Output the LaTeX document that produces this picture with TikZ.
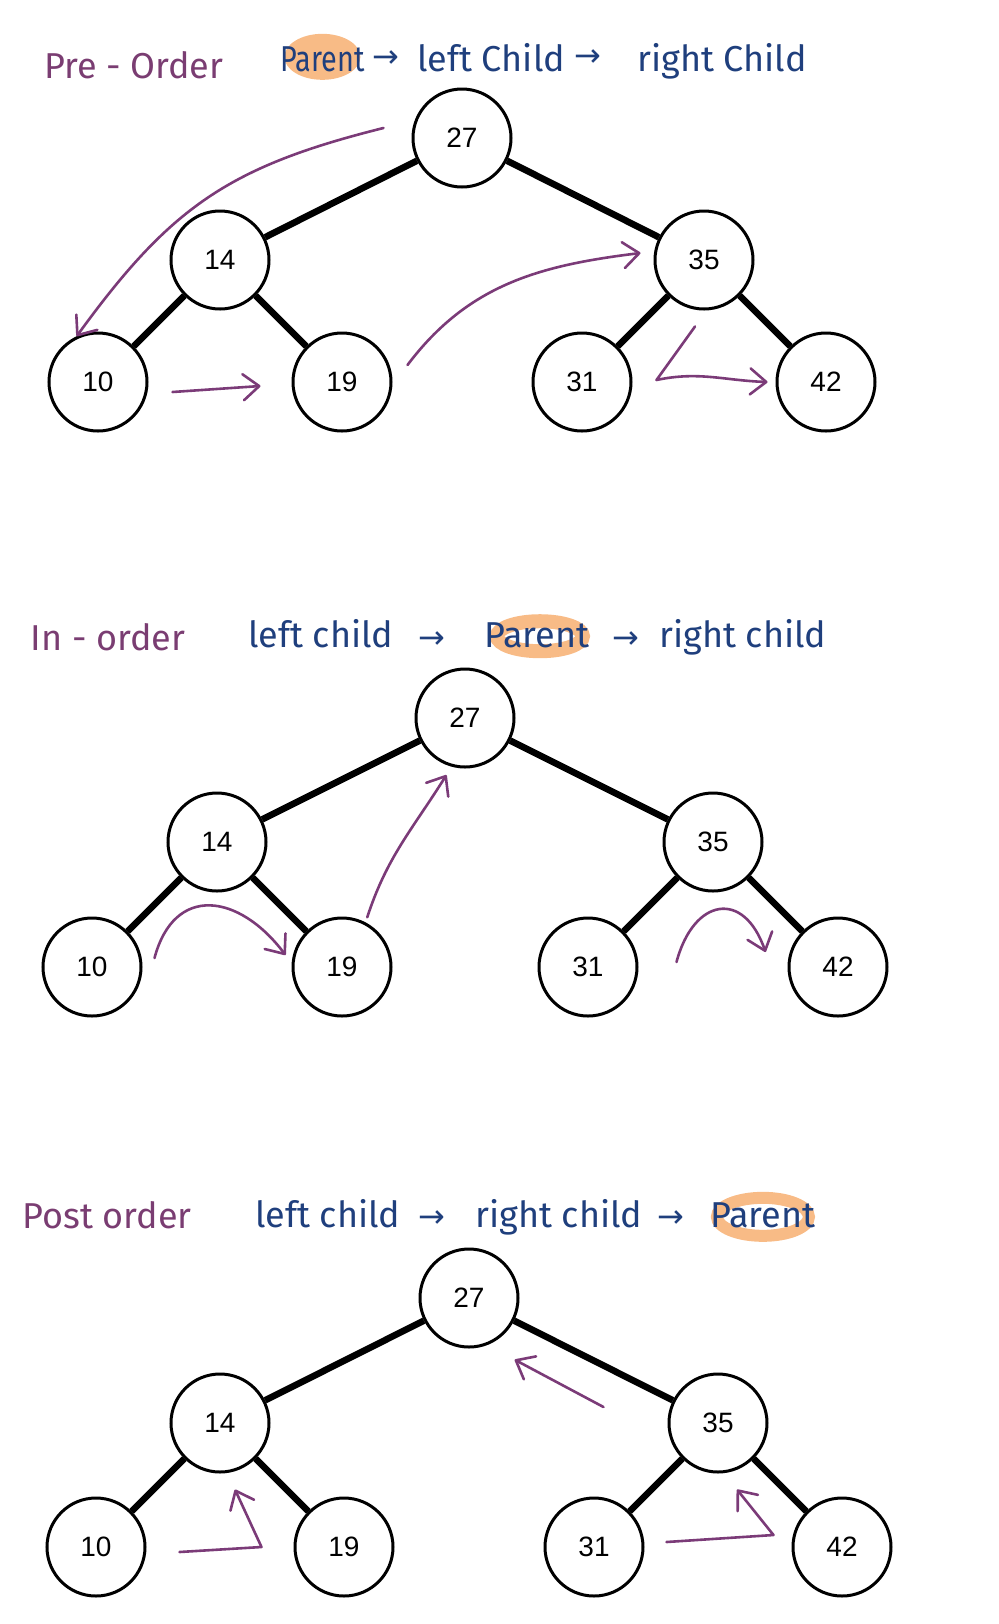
\documentclass[tikz,border=0pt]{standalone}
\usepackage{fontspec}
\usepackage{xcolor}
\usepackage{tikz}
\usetikzlibrary{arrows.meta,positioning,backgrounds}
\newfontfamily\numfont{Liberation Sans}
\newfontfamily\handfont{Fira Sans}
\newfontfamily\handnarrow[FakeStretch=0.8]{Fira Sans}
\newfontfamily\symfont{DejaVu Sans}
\definecolor{WalkPurple}{HTML}{7B3B78}
\definecolor{TitlePurple}{HTML}{7A3D72}
\definecolor{InkBlue}{HTML}{1F3F7D}
\definecolor{MarkOrange}{HTML}{F8BB86}

\begin{document}
\begin{tikzpicture}[on grid,
    tnode/.style={circle, draw, line width=1.5pt, minimum size=49pt, inner sep=0pt, font=\numfont\fontsize{14}{16}\selectfont},
    tedge/.style={line width=3.3pt},
    walk/.style={draw=WalkPurple, line width=1.3pt, line cap=round, line join=round, -{Straight Barb[length=8pt,width=13pt,round]}},
    hdr/.style={anchor=base west, inner sep=0pt, text=TitlePurple, font=\handfont\fontsize{18}{20}\selectfont},
    term/.style={anchor=base west, inner sep=0pt, text=InkBlue, font=\handfont\fontsize{18}{20}\selectfont},
    thento/.style={inner sep=0pt, text=InkBlue, font=\symfont\fontsize{16}{18}\selectfont}]
    \useasboundingbox (0,0) rectangle (499.5pt,-812pt);

    \node[hdr] (h1) at (22pt,-39pt) {Pre - Order};
    \node[term, font=\handnarrow\fontsize{18}{20}\selectfont] (p1) at (140pt,-35.5pt) {Parent};
    \node[thento] (s1) at (193pt,-29.5pt) {→};
    \node[term] (l1) at (208.5pt,-35.5pt) {left Child};
    \node[thento] (s2) at (293.75pt,-29pt) {→};
    \node[term] (r1) at (318.5pt,-35.5pt) {right Child};

    \node[tnode] (a27) at (231pt,-69pt) {27};
    \node[tnode, below left=61pt and 121pt of a27] (a14) {14};
    \node[tnode, below right=61pt and 121pt of a27] (a35) {35};
    \node[tnode, below left=61pt and 61pt of a14] (a10) {10};
    \node[tnode, below right=61pt and 61pt of a14] (a19) {19};
    \node[tnode, below left=61pt and 61pt of a35] (a31) {31};
    \node[tnode, below right=61pt and 61pt of a35] (a42) {42};
    \draw[tedge] (a27) -- (a14);
    \draw[tedge] (a27) -- (a35);
    \draw[tedge] (a14) -- (a10);
    \draw[tedge] (a14) -- (a19);
    \draw[tedge] (a35) -- (a31);
    \draw[tedge] (a35) -- (a42);
    \draw[walk] ([shift={(-14pt,5pt)}]a27.west) to[out=194, in=54, looseness=1.1] (a10.115);
    \draw[walk] ([shift={(12pt,-5pt)}]a10.east) -- ([shift={(-15.5pt,-2pt)}]a19.west);
    \draw[walk] ([shift={(7.5pt,8.5pt)}]a19.east) to[out=53, in=187] ([shift={(-6.5pt,3.5pt)}]a35.west);
    \draw[walk] ([shift={(-4.5pt,-8pt)}]a35.south) -- ([shift={(12pt,1pt)}]a31.east) to[out=12, in=178] ([xshift=-4pt]a42.west);

    \node[hdr] (h2) at (15.3pt,-325pt) {In - order};
    \node[term] (l2) at (124pt,-323.5pt) {left child};
    \node[thento] (s3) at (215.75pt,-320pt) {→};
    \node[term] (p2) at (242pt,-323.5pt) {Parent};
    \node[thento] (s4) at (313pt,-320pt) {→};
    \node[term] (r2) at (329.5pt,-323.5pt) {right child};

    \node[tnode] (b27) at (232.5pt,-359pt) {27};
    \node[tnode, below left=62pt and 124pt of b27] (b14) {14};
    \node[tnode, below right=62pt and 124pt of b27] (b35) {35};
    \node[tnode, below left=62.5pt and 62.5pt of b14] (b10) {10};
    \node[tnode, below right=62.5pt and 62.5pt of b14] (b19) {19};
    \node[tnode, below left=62.5pt and 62.5pt of b35] (b31) {31};
    \node[tnode, below right=62.5pt and 62.5pt of b35] (b42) {42};
    \draw[tedge] (b27) -- (b14);
    \draw[tedge] (b27) -- (b35);
    \draw[tedge] (b14) -- (b10);
    \draw[tedge] (b14) -- (b19);
    \draw[tedge] (b35) -- (b31);
    \draw[tedge] (b35) -- (b42);
    \draw[walk] ([shift={(6pt,4.5pt)}]b10.east) to[out=75, in=127, looseness=1.5] ([shift={(-3pt,6pt)}]b19.west);
    \draw[walk] ([yshift=3pt]b19.60) to[out=72, in=238] ([shift={(-1.5pt,-4.5pt)}]b27.252);
    \draw[walk] ([shift={(19pt,2.5pt)}]b31.east) to[out=75, in=109, looseness=1.9] ([shift={(-11pt,7.5pt)}]b42.west);

    \node[hdr] (h3) at (11pt,-614pt) {Post order};
    \node[term] (l3) at (127.5pt,-613.5pt) {left child};
    \node[thento] (s5) at (215.75pt,-609.3pt) {→};
    \node[term] (r3) at (237.5pt,-613.5pt) {right child};
    \node[thento] (s6) at (335.25pt,-609.3pt) {→};
    \node[term] (p3) at (355pt,-613.5pt) {Parent};

    \node[tnode] (c27) at (234.5pt,-649pt) {27};
    \node[tnode, below left=62.5pt and 124.5pt of c27] (c14) {14};
    \node[tnode, below right=62.5pt and 124.5pt of c27] (c35) {35};
    \node[tnode, below left=62pt and 62pt of c14] (c10) {10};
    \node[tnode, below right=62pt and 62pt of c14] (c19) {19};
    \node[tnode, below left=62pt and 62pt of c35] (c31) {31};
    \node[tnode, below right=62pt and 62pt of c35] (c42) {42};
    \draw[tedge] (c27) -- (c14);
    \draw[tedge] (c27) -- (c35);
    \draw[tedge] (c14) -- (c10);
    \draw[tedge] (c14) -- (c19);
    \draw[tedge] (c35) -- (c31);
    \draw[tedge] (c35) -- (c42);
    \draw[walk] ([shift={(16.5pt,-2.5pt)}]c10.east) -- ([xshift=-16pt]c19.west) -- ([shift={(7.5pt,-8pt)}]c14.south);
    \draw[walk] ([shift={(11pt,2.5pt)}]c31.east) -- ([shift={(-9pt,6pt)}]c42.west) -- ([shift={(9.5pt,-8pt)}]c35.south);
    \draw[walk] ([shift={(-32pt,8pt)}]c35.west) -- ([shift={(5pt,-13pt)}]c27.south east);

    \begin{scope}[on background layer]
        \fill[MarkOrange] ([shift={(0pt,1pt)}]p1.center) ellipse (19pt and 11.5pt);
        \draw[MarkOrange, line width=7pt] ([shift={(1.5pt,-0.7pt)}]p2.center) ellipse (21.5pt and 7.5pt);
        \draw[MarkOrange, line width=6pt] ([yshift=-1pt]p3.center) ellipse (23pt and 9.5pt);
    \end{scope}
\end{tikzpicture}
\end{document}
